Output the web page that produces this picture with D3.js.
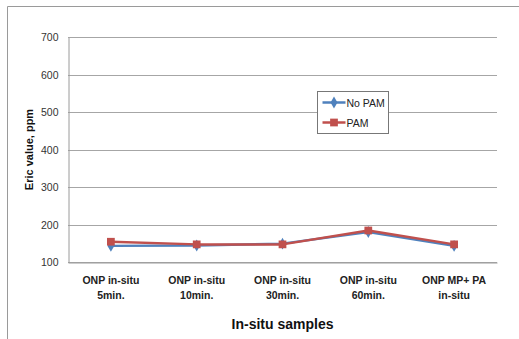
<!DOCTYPE html>
<html>
<head>
<meta charset="utf-8">
<script src="https://cdn.jsdelivr.net/npm/d3@7"></script>
<style>
  html, body { margin: 0; padding: 0; background: #fff; }
  svg { display: block; }
</style>
</head>
<body>
<svg id="chart" width="519" height="339"></svg>
<script>
// Sample categories (two-line labels) and measured Eric values
const categories = [
  ["ONP in-situ", "5min."],
  ["ONP in-situ", "10min."],
  ["ONP in-situ", "30min."],
  ["ONP in-situ", "60min."],
  ["ONP MP+ PA", "in-situ"]
];
const noPam = [143, 144, 149, 180, 143];
const pam   = [154, 147, 147, 184, 147];
const seriesNames = ["No PAM", "PAM"];
const yTicks = [100, 200, 300, 400, 500, 600, 700];

const svg = d3.select("#chart");
const font = "'Liberation Sans', Arial, sans-serif";

// outer chart frame (left and top edges)
svg.append("path")
  .attr("d", "M7.5,339 V6.5 H519")
  .attr("fill", "none").attr("stroke", "#9a9a9a").attr("stroke-width", 1);

const plot = { left: 68, right: 497, top: 37, bottom: 262 };

const x = d3.scaleBand()
  .domain(d3.range(categories.length))
  .range([plot.left, plot.right]);
const y = d3.scaleLinear().domain([100, 700]).range([plot.bottom, plot.top]);

// horizontal gridlines
svg.append("g").selectAll("line").data(yTicks).join("line")
  .attr("x1", plot.left).attr("x2", plot.right)
  .attr("y1", d => Math.round(y(d)) + 0.5).attr("y2", d => Math.round(y(d)) + 0.5)
  .attr("stroke", "#a6a6a6").attr("stroke-width", 1);

// y axis
const yAxis = svg.append("g")
  .attr("transform", `translate(${plot.left + 0.5},0.5)`)
  .call(d3.axisLeft(y).tickValues(yTicks).tickSize(0).tickPadding(10));
yAxis.select(".domain").attr("stroke", "#9a9a9a");
yAxis.selectAll("text")
  .attr("font-family", font).attr("font-size", 10.5).attr("fill", "#333");

// x axis
const xAxis = svg.append("g")
  .attr("transform", `translate(0,${plot.bottom + 0.5})`)
  .call(d3.axisBottom(x).tickSize(0).tickFormat(""));
xAxis.select(".domain").attr("stroke", "#9a9a9a");
xAxis.selectAll(".tick").each(function(d) {
  const t = d3.select(this).append("text")
    .attr("font-family", font).attr("font-size", 10.5).attr("font-weight", "bold")
    .attr("fill", "#222").attr("text-anchor", "middle");
  categories[d].forEach((line, i) => {
    t.append("tspan").attr("x", 0).attr("y", 21 + i * 15).text(line);
  });
});

// axis titles
svg.append("text")
  .attr("x", (plot.left + plot.right) / 2).attr("y", 329)
  .attr("text-anchor", "middle")
  .attr("font-family", font).attr("font-size", 14).attr("font-weight", "bold")
  .attr("fill", "#111").text("In-situ samples");
svg.append("text")
  .attr("transform", `translate(33,${(plot.top + plot.bottom) / 2}) rotate(-90)`)
  .attr("text-anchor", "middle")
  .attr("font-family", font).attr("font-size", 11).attr("font-weight", "bold")
  .attr("fill", "#111").text("Eric value, ppm");

const cx = i => x(i) + x.bandwidth() / 2;
const line = d3.line().x((d, i) => cx(i)).y(d => y(d));

const series = [
  { name: seriesNames[0], values: noPam, color: "#4F81BD", symbol: d3.symbolDiamond, size: 40 },
  { name: seriesNames[1], values: pam,   color: "#C0504D", symbol: d3.symbolSquare,  size: 60 }
];

series.forEach(s => {
  svg.append("path").datum(s.values)
    .attr("d", line).attr("fill", "none")
    .attr("stroke", s.color).attr("stroke-width", 2.5).attr("stroke-linejoin", "round");
  svg.append("g").selectAll("path").data(s.values).join("path")
    .attr("d", d3.symbol().type(s.symbol).size(s.size))
    .attr("transform", (d, i) => `translate(${cx(i)},${y(d)})`)
    .attr("fill", s.color);
});

// legend
const lg = svg.append("g").attr("transform", "translate(317.5,91.5)");
lg.append("rect").attr("width", 71).attr("height", 42)
  .attr("fill", "#fff").attr("stroke", "#777").attr("stroke-width", 1);
series.forEach((s, i) => {
  const ly = 11 + i * 20;
  lg.append("line").attr("x1", 5).attr("x2", 28).attr("y1", ly).attr("y2", ly)
    .attr("stroke", s.color).attr("stroke-width", 2.5);
  lg.append("path").attr("d", d3.symbol().type(s.symbol).size(s.size))
    .attr("transform", `translate(16.5,${ly})`).attr("fill", s.color);
  lg.append("text").attr("x", 29).attr("y", ly + 4)
    .attr("font-family", font).attr("font-size", 10.5).attr("fill", "#222")
    .text(s.name);
});
</script>
</body>
</html>
